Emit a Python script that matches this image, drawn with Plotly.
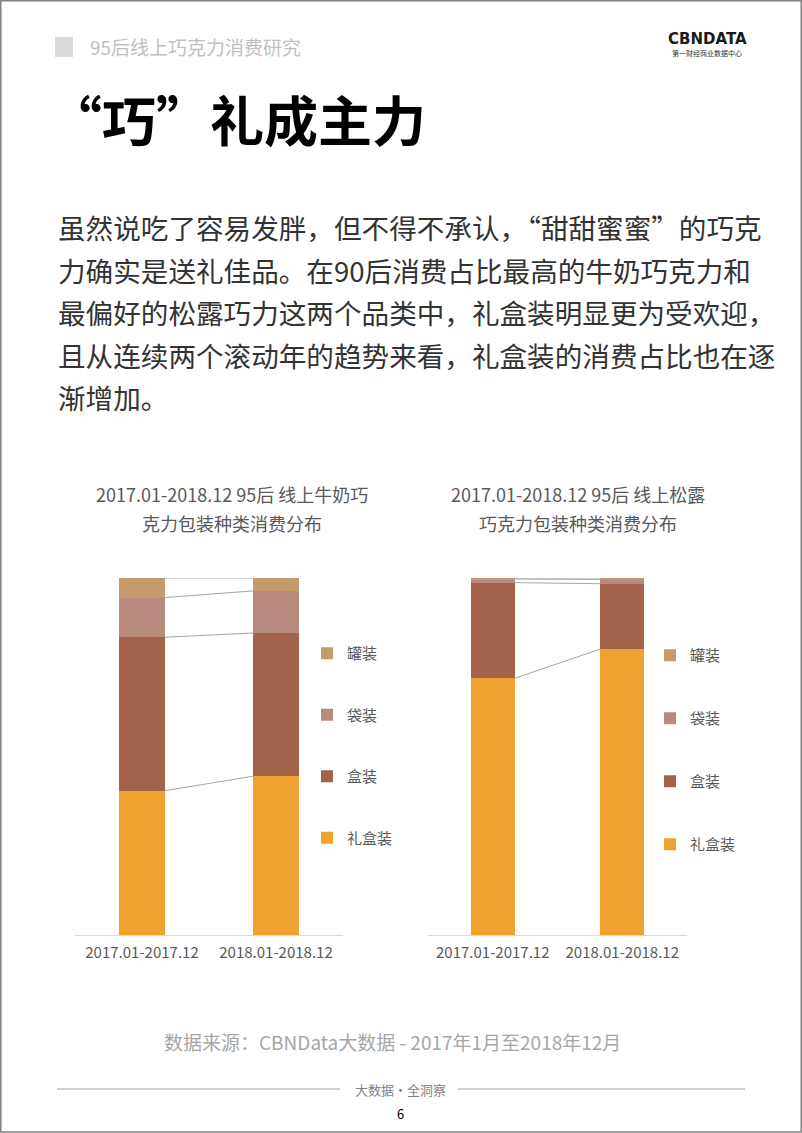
import plotly.graph_objects as go

W, H = 802, 1133

# ---------------- data ----------------
periods = ["2017.01-2017.12", "2018.01-2018.12"]
series_names = ["礼盒装", "盒装", "袋装", "罐装"]
legend_ranks = [4, 3, 2, 1]
milk_gift_box = [40.4, 44.5]
milk_box = [43.0, 40.1]
milk_bag = [11.1, 11.8]
milk_can = [5.5, 3.6]
truffle_gift_box = [71.9, 80.1]
truffle_box = [26.8, 18.3]
truffle_bag = [1.0, 1.2]
truffle_can = [0.3, 0.4]
colors = ["#EFA22F", "#A3634B", "#B88B7E", "#C59B6D"]

title_left = ["2017.01-2018.12 95后 线上牛奶巧", "克力包装种类消费分布"]
title_right = ["2017.01-2018.12 95后 线上松露", "巧克力包装种类消费分布"]
paragraph = [
    "虽然说吃了容易发胖，但不得不承认，“甜甜蜜蜜”的巧克",
    "力确实是送礼佳品。在90后消费占比最高的牛奶巧克力和",
    "最偏好的松露巧力这两个品类中，礼盒装明显更为受欢迎，",
    "且从连续两个滚动年的趋势来看，礼盒装的消费占比也在逐",
    "渐增加。",
]

FONT = "Noto Sans CJK SC, Noto Sans, sans-serif"
BAR_W = 0.336
xpos = [0, 1]


def px(x):
    return x / W


def py(y):
    return 1 - y / H


fig = go.Figure()

charts = [
    ("x", "y", "legend", [milk_gift_box, milk_box, milk_bag, milk_can]),
    ("x2", "y2", "legend2", [truffle_gift_box, truffle_box, truffle_bag, truffle_can]),
]

for xa, ya, lg, vals in charts:
    for name, rank, v, c in zip(series_names, legend_ranks, vals, colors):
        fig.add_trace(go.Bar(
            x=xpos, y=v, name=name, width=BAR_W, marker=dict(color=c, line=dict(width=0)),
            xaxis=xa, yaxis=ya, legend=lg, legendgroup=name, legendrank=rank, hoverinfo="skip",
        ))
    # series connector lines between stacked tops
    cum0 = cum1 = 0.0
    for v in vals:
        cum0 += v[0]
        cum1 += v[1]
        fig.add_trace(go.Scatter(
            x=[xpos[0] + BAR_W / 2, xpos[1] - BAR_W / 2], y=[cum0, cum1],
            mode="lines", line=dict(color="#A6A6A6", width=1),
            xaxis=xa, yaxis=ya, showlegend=False, hoverinfo="skip",
        ))

ydom = [py(935), py(578)]
axis_common = dict(
    range=[-0.5, 1.5], tickvals=xpos, ticktext=periods, showgrid=False, zeroline=False,
    showline=True, linecolor="#D9D9D9", linewidth=1, ticks="", ticklabelstandoff=4,
    tickfont=dict(family=FONT, size=15, color="#595959"), fixedrange=True,
)
yaxis_common = dict(range=[0, 100], visible=False, fixedrange=True)

leg_common = dict(
    font=dict(family=FONT, size=15, color="#595959"), traceorder="grouped",
    bgcolor="rgba(0,0,0,0)", xanchor="left", yanchor="top",
    itemclick=False, itemdoubleclick=False,
)

fig.update_layout(
    width=W, height=H, margin=dict(l=0, r=0, t=0, b=0),
    paper_bgcolor="white", plot_bgcolor="white", barmode="stack",
    xaxis=dict(domain=[px(75), px(343)], anchor="y", **axis_common),
    yaxis=dict(domain=ydom, anchor="x", **yaxis_common),
    xaxis2=dict(domain=[px(428), px(687)], anchor="y2", **axis_common),
    yaxis2=dict(domain=ydom, anchor="x2", **yaxis_common),
    legend=dict(x=px(307), y=py(637), tracegroupgap=39, **leg_common),
    legend2=dict(x=px(650), y=py(639), tracegroupgap=40.5, **leg_common),
    showlegend=True,
)

ann = []


def text(x, y, s, size, color, xanchor="center", bold=False, family=FONT):
    ann.append(dict(
        x=px(x), y=py(y), xref="paper", yref="paper", text=("<b>%s</b>" % s) if bold else s,
        showarrow=False, xanchor=xanchor, yanchor="middle",
        font=dict(family=family, size=size, color=color),
    ))


# header
text(88, 47, "95后线上巧克力消费研究", 19, "#BFBFBF", xanchor="left")
text(707, 39, "CBNDATA", 15, "#1A1A1A", bold=True, family="DejaVu Sans, sans-serif")
text(707, 53, "第一财经商业数据中心", 7, "#333333")
# title
text(46, 119, "“巧”礼成主力", 54, "#000000", xanchor="left", bold=True)
# paragraph
for i, line in enumerate(paragraph):
    text(56, 227 + i * 42.5, line, 27.6, "#333333", xanchor="left")
# chart titles
text(232, 494, title_left[0], 18, "#595959")
text(232, 523, title_left[1], 18, "#595959")
text(578, 494, title_right[0], 18, "#595959")
text(578, 523, title_right[1], 18, "#595959")
# footer
text(392, 1041, "数据来源：CBNData大数据 - 2017年1月至2018年12月", 19, "#A6A6A6")
text(400, 1089, "大数据·全洞察", 13, "#7F7F7F")
text(400, 1113, "6", 13, "#000000")

shapes = [
    dict(type="rect", xref="paper", yref="paper", x0=px(55), x1=px(73), y0=py(37), y1=py(57),
         fillcolor="#D9D9D9", line=dict(width=0)),
    dict(type="line", xref="paper", yref="paper", x0=px(57), x1=px(340), y0=py(1089), y1=py(1089),
         line=dict(color="#BFBFBF", width=1.5)),
    dict(type="line", xref="paper", yref="paper", x0=px(458), x1=px(745), y0=py(1089), y1=py(1089),
         line=dict(color="#BFBFBF", width=1.5)),
    dict(type="rect", xref="paper", yref="paper", x0=px(0.8), x1=px(801.2), y0=py(0.8), y1=py(1132),
         fillcolor="rgba(0,0,0,0)", line=dict(color="#808080", width=1.5)),
]

fig.update_layout(annotations=ann, shapes=shapes)
fig.write_html(
    "out.html",
    config={"displayModeBar": False},
    post_script="document.body.style.margin='0';document.body.style.padding='0';",
)
